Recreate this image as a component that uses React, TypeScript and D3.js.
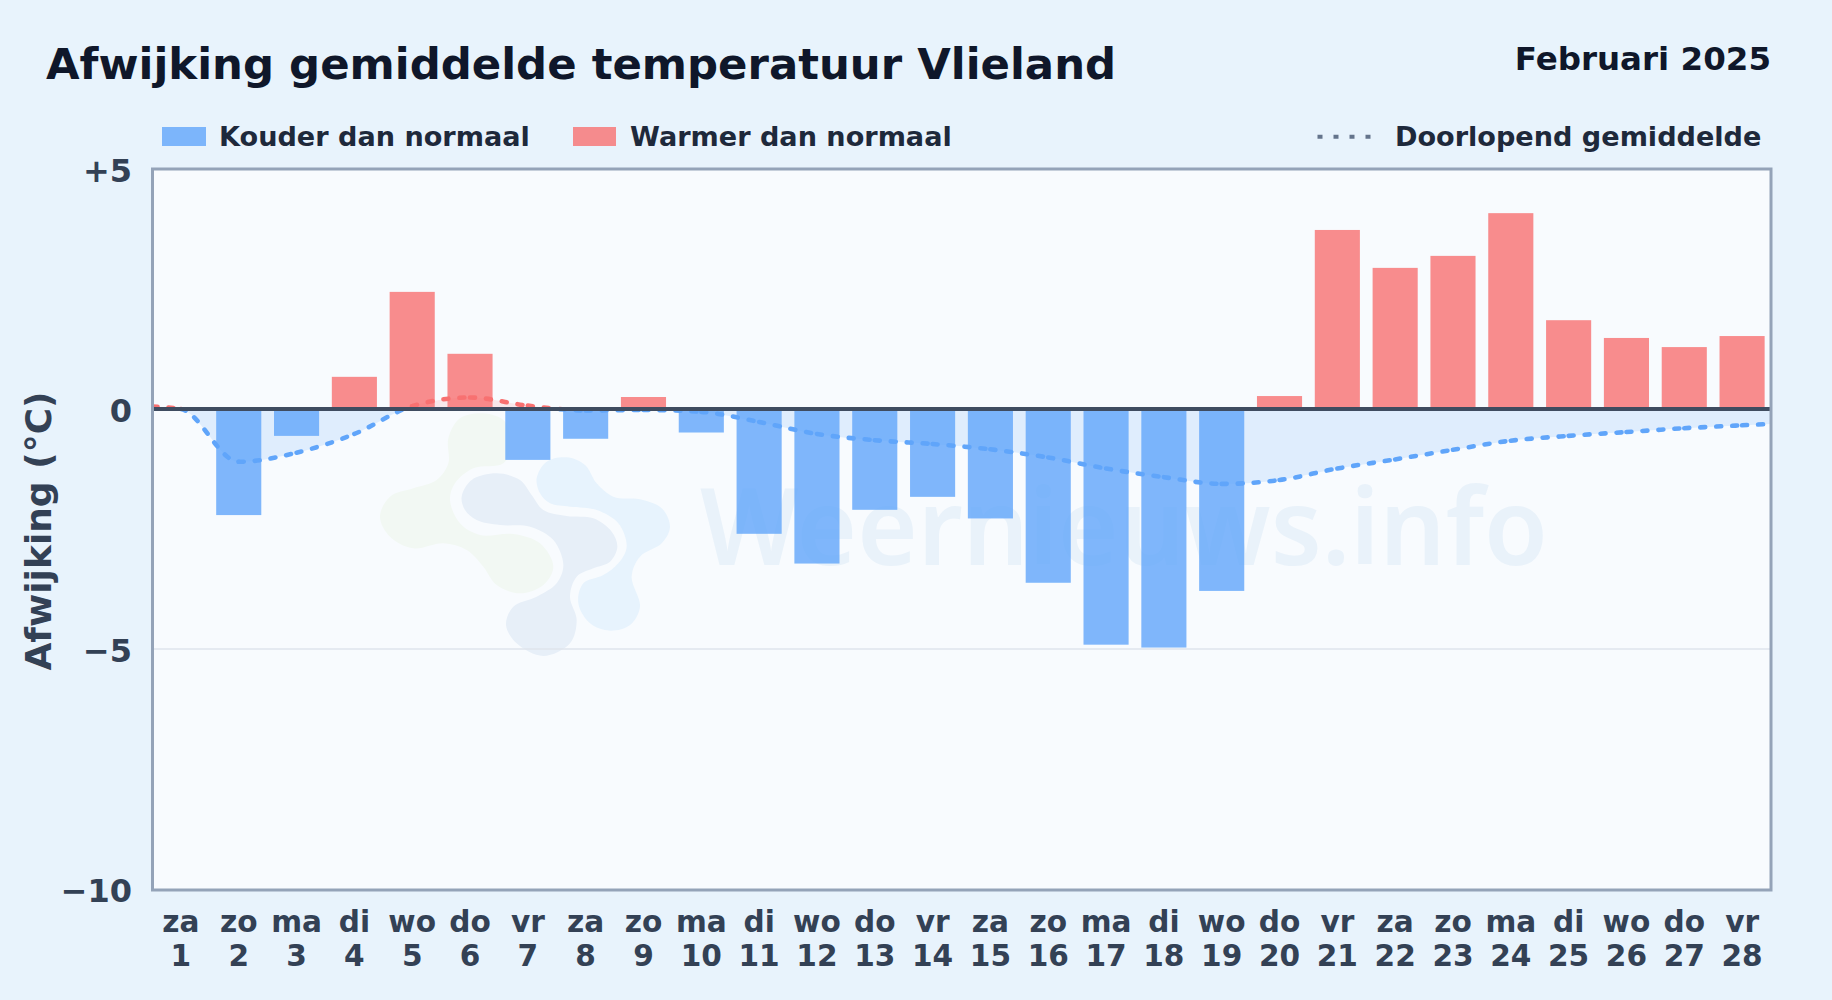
import React from "react";
import * as d3 from "d3";

const TITLE = "Afwijking gemiddelde temperatuur Vlieland";
const PERIOD = "Februari 2025";
const WATERMARK = "Weernieuws.info";
const Y_TITLE = "Afwijking (°C)";
const LEGEND_COLD = "Kouder dan normaal";
const LEGEND_WARM = "Warmer dan normaal";
const LEGEND_LINE = "Doorlopend gemiddelde";

const weekdays = ["za","zo","ma","di","wo","do","vr","za","zo","ma","di","wo","do","vr","za","zo","ma","di","wo","do","vr","za","zo","ma","di","wo","do","vr"];
const days = d3.range(1, 29);
const deviations = [0,-2.21,-0.56,0.67,2.44,1.15,-1.06,-0.62,0.25,-0.49,-2.6,-3.22,-2.1,-1.83,-2.28,-3.62,-4.91,-4.97,-3.79,0.27,3.73,2.94,3.19,4.08,1.85,1.48,1.29,1.52];
const runningMean = [0.0,-1.1,-0.91,-0.52,0.06,0.24,0.07,-0.03,-0.02,-0.06,-0.27,-0.52,-0.65,-0.73,-0.84,-1.01,-1.24,-1.42,-1.56,-1.48,-1.24,-1.05,-0.85,-0.66,-0.56,-0.48,-0.4,-0.34];
const meanAtLeftEdge = 0.05;
const meanAtRightEdge = -0.31;
const yTicks = [5, 0, -5, -10];
const gridValues = [-5];

// watermark logo outlines, decorative, in a 3x local coordinate frame
const logoGreen: [number, number][] = [[325,175],[360,115],[430,100],[495,125],[510,200],[490,250],[400,265],[345,310],[330,360],[360,430],[420,465],[520,462],[600,490],[640,560],[610,615],[540,640],[470,615],[430,560],[380,510],[310,490],[220,505],[150,470],[120,410],[150,350],[220,325],[290,300],[325,250]];
const logoDark: [number, number][] = [[365,350],[395,300],[470,280],[540,300],[575,345],[610,390],[680,408],[760,415],[815,455],[832,500],[810,545],[760,565],[710,590],[690,650],[710,720],[690,790],[610,828],[530,790],[498,735],[520,680],[590,650],[650,610],[670,555],[640,480],[570,440],[480,435],[410,420],[375,390]];
const logoLight: [number, number][] = [[590,295],[620,245],[680,232],[735,255],[770,310],[820,350],[900,358],[965,385],[990,440],[965,490],[900,530],[875,590],[900,680],[870,735],[810,752],[750,730],[715,670],[730,610],[790,585],[835,550],[860,500],[835,430],[770,390],[690,380],[630,370],[600,340]];

const W = 1832, H = 1000;
const L = 152.5, R = 1771, T = 169, B = 889;
const BLUE = "#60a5fa", RED = "#f87171";
const FONT = "'DejaVu Sans', sans-serif";

const x = d3.scaleBand<number>().domain(days).range([L - 0.5, R]).paddingInner(0.22).paddingOuter(0.11);
const y = d3.scaleLinear().domain([5, -10]).range([T, B]);
const cx = (d: number) => (x(d) as number) + x.bandwidth() / 2;

type P = [number, number];
const linePoints: P[] = [
  [L, y(meanAtLeftEdge)],
  ...days.map((d, i) => [cx(d), y(runningMean[i])] as P),
  [R, y(meanAtRightEdge)],
];

// collects one path per curve piece, so the dash pattern restarts at each day
function daySegments(points: P[]): string[] {
  const segs: string[] = [];
  let px = 0, py = 0;
  const ctx: any = {
    moveTo(a: number, b: number) { px = a; py = b; },
    lineTo(a: number, b: number) { segs.push(`M${px},${py}L${a},${b}`); px = a; py = b; },
    bezierCurveTo(a: number, b: number, c: number, d: number, e: number, f: number) {
      segs.push(`M${px},${py}C${a},${b},${c},${d},${e},${f}`); px = e; py = f;
    },
    closePath() {},
    beginPath() {},
  };
  d3.line<P>().x((p) => p[0]).y((p) => p[1]).curve(d3.curveMonotoneX).context(ctx)(points);
  return segs;
}

const segments = daySegments(linePoints);
const areaPath = d3.area<P>().x((p) => p[0]).y0(y(0)).y1((p) => p[1]).curve(d3.curveMonotoneX)(linePoints) as string;
const blob = d3.line<[number, number]>()
  .x((p) => 340 + p[0] / 3)
  .y((p) => 380 + p[1] / 3)
  .curve(d3.curveCatmullRomClosed.alpha(0.5));

export default function App() {
  const y0 = y(0);
  return (
    <svg
      width={W}
      height={H}
      viewBox={`0 0 ${W} ${H}`}
      style={{ position: "absolute", left: 0, top: 0, display: "block" }}
      fontFamily={FONT}
    >
      <defs>
        <clipPath id="above"><rect x={L} y={T} width={R - L} height={y0 - T} /></clipPath>
        <clipPath id="below"><rect x={L} y={y0} width={R - L} height={B - y0} /></clipPath>
      </defs>
      <rect width={W} height={H} fill="#e8f3fc" />
      <rect x={L} y={T} width={R - L} height={B - T} fill="#f8fbfe" />

      <g>
        <path d={blob(logoGreen) as string} fill="#f2f8f3" clipPath="url(#below)" />
        <path d={blob(logoDark) as string} fill="#e7eff8" />
        <path d={blob(logoLight) as string} fill="#e7f3fd" />
        <text x={700} y={565} fontFamily="'Noto Sans', sans-serif" fontWeight={600} fontSize={106} fill="#e9f2fa" textLength={848} lengthAdjust="spacingAndGlyphs">{WATERMARK}</text>
      </g>

      {gridValues.map((v) => (
        <line key={v} x1={L} x2={R} y1={y(v)} y2={y(v)} stroke="#dfe5ec" strokeWidth={1.6} />
      ))}

      <path d={areaPath} fill={BLUE} fillOpacity={0.16} clipPath="url(#below)" />
      <path d={areaPath} fill={RED} fillOpacity={0.14} clipPath="url(#above)" />

      {days.map((d, i) => {
        const v = deviations[i];
        if (v === 0) return null;
        return (
          <rect
            key={d}
            x={x(d)}
            width={x.bandwidth()}
            y={Math.min(y(v), y0)}
            height={Math.abs(y(v) - y0)}
            fill={v < 0 ? BLUE : RED}
            fillOpacity={0.8}
          />
        );
      })}

      {[{ id: "above", c: RED }, { id: "below", c: BLUE }].map(({ id, c }) => (
        <g key={id} clipPath={`url(#${id})`} fill="none" stroke={c} strokeWidth={4.6} strokeLinecap="round" strokeDasharray="5 11">
          {segments.map((s, i) => <path key={i} d={s} />)}
        </g>
      ))}

      <line x1={L} x2={R} y1={y0} y2={y0} stroke="#3f4c60" strokeWidth={3.8} />
      <rect x={L} y={T} width={R - L} height={B + 1 - T} fill="none" stroke="#94a3b8" strokeWidth={3} />

      <text x={46} y={79} fontSize={43.4} fontWeight={700} fill="#0f172a">{TITLE}</text>
      <text x={1771} y={70} fontSize={32.5} fontWeight={700} fill="#0f172a" textAnchor="end">{PERIOD}</text>

      <rect x={162} y={127} width={44} height={19} fill={BLUE} fillOpacity={0.8} />
      <text x={219} y={146} fontSize={27.1} fontWeight={700} fill="#1e293b">{LEGEND_COLD}</text>
      <rect x={573} y={127} width={43} height={19} fill={RED} fillOpacity={0.8} />
      <text x={630} y={146} fontSize={27.1} fontWeight={700} fill="#1e293b">{LEGEND_WARM}</text>
      <line x1={1317.5} x2={1373} y1={136.7} y2={136.7} stroke="#64748b" strokeWidth={4} strokeDasharray="5 11" />
      <text x={1395} y={146} fontSize={27.1} fontWeight={700} fill="#1e293b">{LEGEND_LINE}</text>

      {yTicks.map((t) => (
        <text key={t} x={132} y={y(t) + 1} dy="0.37em" textAnchor="end" fontSize={32} fontWeight={700} fill="#334155">
          {t > 0 ? `+${t}` : t < 0 ? `\u2212${Math.abs(t)}` : "0"}
        </text>
      ))}

      {days.map((d, i) => (
        <g key={d} textAnchor="middle" fontSize={29.6} fontWeight={700} fill="#334155">
          <text x={cx(d)} y={932}>{weekdays[i]}</text>
          <text x={cx(d)} y={966}>{d}</text>
        </g>
      ))}

      <text
        transform={`translate(50.5,531) rotate(-90)`}
        textAnchor="middle"
        fontSize={36}
        fontWeight={700}
        fill="#334155"
      >{Y_TITLE}</text>
    </svg>
  );
}
